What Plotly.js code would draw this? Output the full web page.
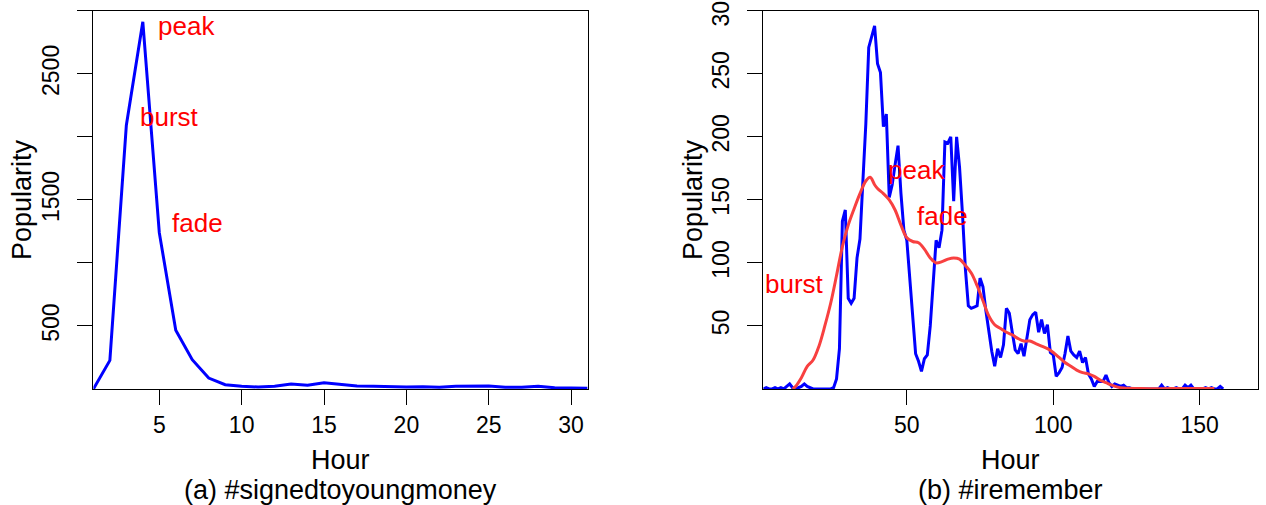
<!DOCTYPE html>
<html>
<head>
<meta charset="utf-8">
<script src="https://cdn.plot.ly/plotly-3.0.1.min.js"></script>
<style>
html, body { margin: 0; padding: 0; background: #fff; }
#chart { width: 1266px; height: 505px; }
</style>
</head>
<body>
<div id="chart"></div>
<script>
// ---- Panel (a): #signedtoyoungmoney ----
var hoursA = [1,2,3,4,5,6,7,8,9,10,11,12,13,14,15,16,17,18,19,20,21,22,23,24,25,26,27,28,29,30,31];
var popularityA = [0,227,2093,2913,1240,466,233,87,34,21,16,21,40,29,50,37,24,21,16,16,18,13,21,24,24,13,13,21,10,8,5];

// ---- Panel (b): #iremember ----
var hoursB = [];
for (var i = 1; i <= 158; i++) hoursB.push(i);
var popularityB = [
  0,1,0,0,1,0,1,0,2,4, 1,0,1,2,4,2,1,0,0,0, 0,0,0,0,1,8,32,133,142,72,
  68,72,104,119,165,210,271,280,288,258, 251,208,218,152,162,178,193,155,126,118,
  88,55,28,22,14,24,27,50,85,118, 112,126,196,195,200,149,200,176,139,95,
  66,64,65,66,88,81,62,44,30,18, 32,25,35,64,60,45,31,28,36,26,
  40,55,59,61,45,55,44,51,29,27, 10,13,17,28,42,30,27,25,30,21,
  25,12,8,2,6,6,6,11,5,2, 4,3,2,3,1,1,0,0,0,0,
  0,0,0,0,0,0,3,0,1,0, 0,1,0,0,3,1,3,0,0,0,
  0,1,0,1,0,0,2,0
];
var smoothHoursB = [11,12,14,16,18,20,22,24,26,28,30,32,34,36,37.5,39,40,42,44,46,48,50,52,54,56,58,60,62,64,66,68,70,72,74,76,78,80,82,84,86,88,90,92,94,96,98,100,102,104,106,108,110,112,114,116,118,120,122,124,130,140,155];
var smoothB = [0,2,9,18,23,34,50,68,90,113,130,143,155,165,168,162,159,155,150,142,130,120,117,116,111,104,100,101,103,104,103,98,92,82,70,58,51,48,45,43,40,38,38,36,34,32,29,25,21,18,15,13,12,10,7,5,3,1.5,0.8,0.3,0.3,0.3];

// ---- Tick labels ----
var xTicksA = [5,10,15,20,25,30];
var yTicksA = [500,1000,1500,2000,2500,3000];
var yTickTextA = ['500','','1500','','2500',''];
var xTicksB = [50,100,150];
var yTicksB = [50,100,150,200,250,300];

// ---- Text ----
var labelsA = {peak: [6.66, 2877], burst: [5.6, 2157], fade: [7.33, 1314]};
var labelsB = {peak: [53.4, 174], burst: [11.6, 83], fade: [62.1, 137]};

var FONT = '"Liberation Sans", Arial, Helvetica, sans-serif';
var W = 1266, H = 505;
function px(x) { return x / W; }
function py(y) { return (H - y) / H; }

var traces = [
  {x: hoursA, y: popularityA, type: 'scatter', mode: 'lines', xaxis: 'x', yaxis: 'y',
   line: {color: '#0000FF', width: 3}, hoverinfo: 'skip'},
  {x: hoursB, y: popularityB, type: 'scatter', mode: 'lines', xaxis: 'x2', yaxis: 'y2',
   line: {color: '#0000FF', width: 3}, hoverinfo: 'skip'},
  {x: smoothHoursB, y: smoothB, type: 'scatter', mode: 'lines', xaxis: 'x2', yaxis: 'y2',
   line: {color: '#F84040', width: 3, shape: 'spline', smoothing: 1}, hoverinfo: 'skip'}
];

var axisBase = {
  showline: true, mirror: true, linecolor: '#000', linewidth: 1,
  ticks: 'outside', ticklen: 15, tickcolor: '#000', tickwidth: 1,
  showgrid: false, zeroline: false,
  tickfont: {family: FONT, size: 23, color: '#000'}
};
function ax(extra) { return Object.assign({}, axisBase, extra); }

var yDom = [py(389), py(10.8)];

var annotations = [];
function addLabels(obj, xr, yr) {
  Object.keys(obj).forEach(function (k) {
    annotations.push({x: obj[k][0], y: obj[k][1], xref: xr, yref: yr, text: k, showarrow: false,
      xanchor: 'center', yanchor: 'middle', font: {family: FONT, size: 26, color: '#FF0000'}});
  });
}
addLabels(labelsA, 'x', 'y');
addLabels(labelsB, 'x2', 'y2');

function paperText(text, x, y, size, angle) {
  annotations.push({x: px(x), y: py(y), xref: 'paper', yref: 'paper', text: text, showarrow: false,
    xanchor: 'center', yanchor: 'middle', textangle: angle || 0,
    font: {family: FONT, size: size, color: '#000'}});
}
paperText('Popularity', 22, 200, 27, -90);
paperText('Popularity', 693, 200, 27, -90);
paperText('Hour', 340.5, 460, 27);
paperText('Hour', 1010.8, 460, 27);
paperText('(a) #signedtoyoungmoney', 340.5, 490, 27);
paperText('(b) #iremember', 1010.8, 490, 27);

var layout = {
  width: W, height: H,
  margin: {l: 0, r: 0, t: 0, b: 0},
  paper_bgcolor: '#fff', plot_bgcolor: '#fff',
  showlegend: false,
  xaxis: ax({domain: [px(93.4), px(587.6)], range: [1, 31], tickvals: xTicksA, anchor: 'y'}),
  yaxis: ax({domain: yDom, range: [0, 3000], tickvals: yTicksA, ticktext: yTickTextA, tickangle: -90,
             anchor: 'x', ticklabelstandoff: 9, ticklabeloverflow: 'allow'}),
  xaxis2: ax({domain: [px(763.3), px(1258.3)], range: [1, 170], tickvals: xTicksB, anchor: 'y2'}),
  yaxis2: ax({domain: yDom, range: [0, 300], tickvals: yTicksB, tickangle: -90,
              anchor: 'x2', ticklabelstandoff: 9, ticklabeloverflow: 'allow'}),
  annotations: annotations
};

Plotly.newPlot('chart', traces, layout, {displayModeBar: false, staticPlot: true});
</script>
</body>
</html>
